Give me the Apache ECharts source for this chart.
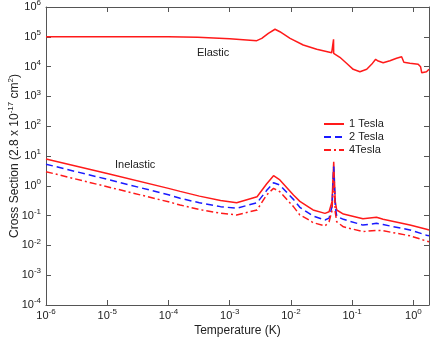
<!DOCTYPE html>
<html>
<head>
<meta charset="utf-8">
<script src="https://cdn.jsdelivr.net/npm/echarts@6/dist/echarts.min.js"></script>
<style>
    html, body {margin: 0; padding: 0; background: #fff;}
    #chart {width: 433px; height: 339px;}
</style>
</head>
<body>
<div id="chart"></div>
<script>
// temperature (K) for the elastic curve
var elasticT = [1e-6, 1e-5, 1e-4, 3e-4, 1e-3, 2.77e-3, 3.34e-3, 4.28e-3, 5.5e-3, 6.6e-3, 9.7e-3, 1.59e-2, 2.64e-2,
    4.63e-2, 4.95e-2, 4.97e-2, 4.99e-2, 6.3e-2, 8.1e-2, 0.104, 0.134, 0.173, 0.208, 0.242, 0.267, 0.321, 0.414,
    0.532, 0.643, 0.70, 0.877, 1.2, 1.31, 1.37, 1.64, 1.8]
var elastic = [1e5, 1e5, 1e5, 9.6e4, 8.6e4, 7.4e4, 8.9e4, 1.31e5, 1.79e5, 1.48e5, 8.9e4, 5.3e4, 3.8e4,
    2.9e4, 2.85e4, 8.2e4, 2.8e4, 2.05e4, 1.29e4, 8.1e3, 6.7e3, 8.1e3, 1.19e4, 1.76e4, 1.54e4, 1.35e4, 1.58e4,
    1.9e4, 2.15e4, 1.39e4, 1.29e4, 1.19e4, 9.9e3, 6.2e3, 6.7e3, 8.1e3]

// temperature (K) for the inelastic curves
var inelasticT = [1e-6, 1e-5, 1e-4, 1.55e-4, 3.2e-4, 7.1e-4, 1.3e-3, 2.8e-3, 4.0e-3, 5.2e-3, 6.6e-3, 1.1e-2,
    1.4e-2, 1.9e-2, 2.3e-2, 3.6e-2, 4.2e-2, 4.7e-2, 5.0e-2, 5.3e-2, 5.6e-2, 7.2e-2, 0.15, 0.25, 0.32, 0.88, 1.64, 1.8]
var tesla1 = [7.9, 2.6, 0.82, 0.65, 0.45, 0.32, 0.27, 0.43, 1.15, 2.18, 1.57, 0.49,
    0.3, 0.2, 0.155, 0.119, 0.135, 0.3, 6.4, 0.3, 0.154, 0.113, 0.078, 0.088, 0.075, 0.048, 0.035, 0.033]
var tesla2 = [5.3, 1.65, 0.5, 0.38, 0.27, 0.2, 0.176, 0.27, 0.69, 1.27, 1.06, 0.35,
    0.19, 0.125, 0.097, 0.071, 0.082, 0.2, 4.4, 0.2, 0.095, 0.075, 0.048, 0.055, 0.05, 0.033, 0.022, 0.021]
var tesla4 = [2.97, 0.93, 0.29, 0.227, 0.16, 0.12, 0.105, 0.154, 0.49, 0.82, 0.63, 0.2,
    0.105, 0.075, 0.058, 0.045, 0.062, 0.15, 2.95, 0.13, 0.062, 0.042, 0.029, 0.032, 0.031, 0.021, 0.014, 0.0133]

var seriesNames = ['1 Tesla', '2 Tesla', '4Tesla']

function pairs(xs, ys) {
    return xs.map(function (x, i) { return [x, ys[i]] })
}

function powLabel(v) {
    var l = Math.log10(v)
    var e = Math.round(l)
    if (Math.abs(l - e) > 1e-6) return ''
    return '{b|10}{s|' + e + '}'
}

var textColor = '#222'
var axisColor = '#555'
var richPow = {
    b: {fontSize: 11, color: textColor, fontFamily: 'Liberation Sans'},
    s: {fontSize: 8, color: textColor, fontFamily: 'Liberation Sans', padding: [0, 0, 8, 0]}
}

function axisBase(show) {
    return {
        axisLine: {show: true, onZero: false, lineStyle: {color: axisColor, width: 1}},
        axisTick: {show: true, inside: true, length: 5, lineStyle: {color: axisColor}},
        splitLine: {show: false},
        axisLabel: show ? {formatter: powLabel, rich: richPow} : {show: false}
    }
}

var xBottom = Object.assign(axisBase(true), {
    type: 'log', logBase: 10, min: 1e-6, max: 1.8, interval: 1, position: 'bottom',
    name: 'Temperature (K)', nameLocation: 'middle', nameGap: 20, nameMoveOverlap: false,
    nameTextStyle: {fontSize: 12, color: textColor, fontFamily: 'Liberation Sans'}
})
xBottom.axisLabel.margin = 3
var xTop = Object.assign(axisBase(false), {
    type: 'log', logBase: 10, min: 1e-6, max: 1.8, interval: 1, position: 'top'
})
var yLeft = Object.assign(axisBase(true), {
    type: 'log', logBase: 10, min: 1e-4, max: 1e6, interval: 1, position: 'left',
    name: '{n|Cross Section (2.8 x 10}{s|-17}{n| cm}{s|2}{n|)}', nameLocation: 'middle', nameGap: 23,
    nameMoveOverlap: false,
    nameTextStyle: {
        rich: {
            n: {fontSize: 12, color: textColor, fontFamily: 'Liberation Sans'},
            s: {fontSize: 8, color: textColor, fontFamily: 'Liberation Sans', padding: [0, 0, 8, 0]}
        }
    }
})
yLeft.axisLabel.margin = 5
var yRight = Object.assign(axisBase(false), {
    type: 'log', logBase: 10, min: 1e-4, max: 1e6, interval: 1, position: 'right'
})

var chart = echarts.init(document.getElementById('chart'))
chart.setOption({
    animation: false,
    backgroundColor: '#fff',
    textStyle: {fontFamily: 'Liberation Sans'},
    grid: {left: 46, right: 4, top: 7, bottom: 34, containLabel: false, outerBoundsMode: 'none'},
    legend: {
        data: seriesNames,
        orient: 'vertical',
        left: 318,
        top: 113,
        itemWidth: 20,
        itemHeight: 8,
        itemGap: 1,
        itemStyle: {opacity: 0},
        textStyle: {fontSize: 11, color: textColor, fontFamily: 'Liberation Sans', lineHeight: 12}
    },
    xAxis: [xBottom, xTop],
    yAxis: [yLeft, yRight],
    series: [
        {
            name: 'Elastic', type: 'line', symbol: 'none',
            lineStyle: {color: '#ff1a1a', width: 1.5},
            itemStyle: {color: '#ff1a1a'},
            data: pairs(elasticT, elastic),
            markPoint: {
                symbol: 'circle', symbolSize: 0,
                label: {show: true, position: 'inside', formatter: 'Elastic', fontSize: 11, color: textColor},
                data: [{coord: [5.36e-4, 2.9e4]}]
            }
        },
        {
            name: '1 Tesla', type: 'line', symbol: 'none',
            lineStyle: {color: '#ff1a1a', width: 1.5},
            itemStyle: {color: '#ff1a1a'},
            data: pairs(inelasticT, tesla1),
            markPoint: {
                symbol: 'circle', symbolSize: 0,
                label: {show: true, position: 'inside', formatter: 'Inelastic', fontSize: 11, color: textColor},
                data: [{coord: [2.86e-5, 5.0]}]
            }
        },
        {
            name: '2 Tesla', type: 'line', symbol: 'none',
            lineStyle: {color: '#1a1aff', width: 1.5, type: [7, 4]},
            itemStyle: {color: '#1a1aff'},
            data: pairs(inelasticT, tesla2)
        },
        {
            name: '4Tesla', type: 'line', symbol: 'none',
            lineStyle: {color: '#ff1a1a', width: 1.5, type: [7, 3, 2, 3]},
            itemStyle: {color: '#ff1a1a'},
            data: pairs(inelasticT, tesla4)
        }
    ]
})
</script>
</body>
</html>
